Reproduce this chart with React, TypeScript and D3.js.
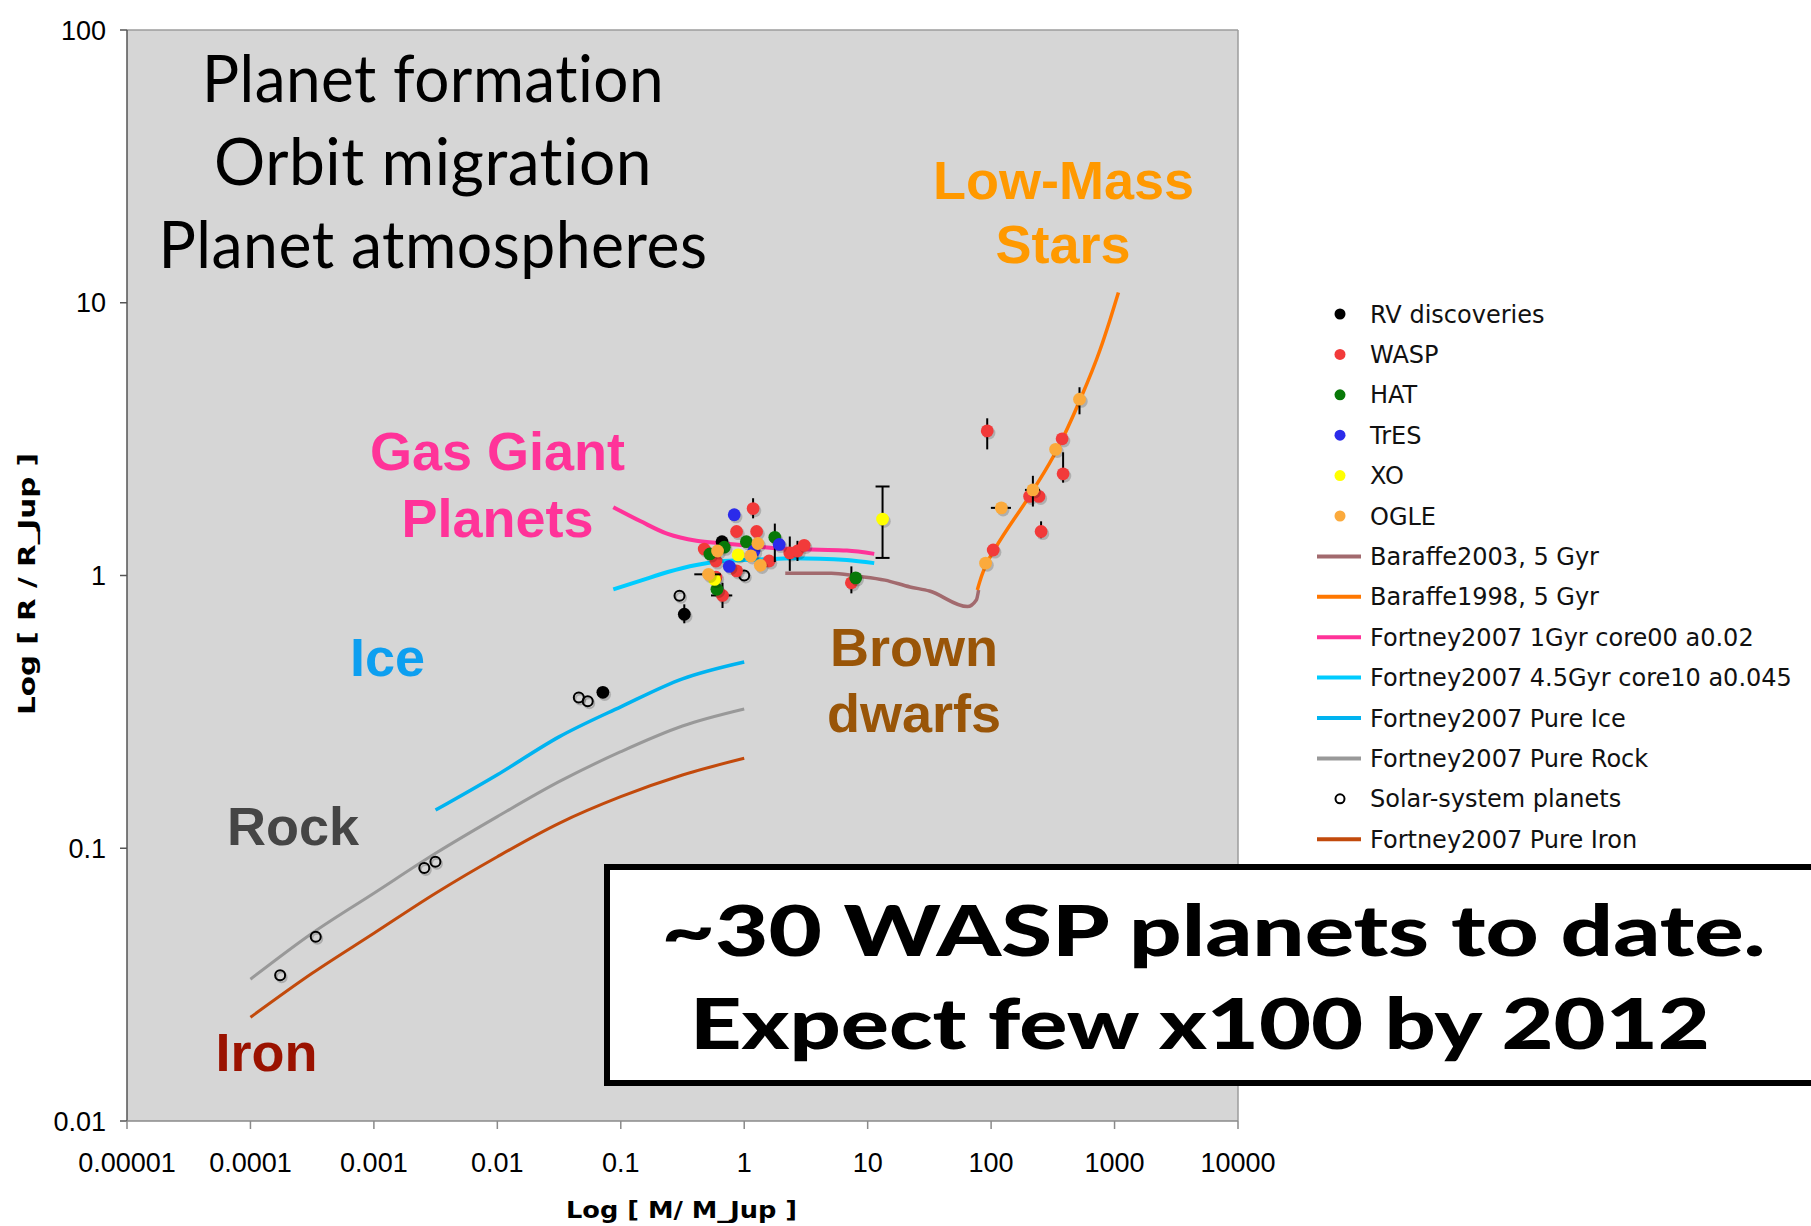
import React from "react";
import * as d3 from "d3";

type Pt = { m: number; r: number; mLo?: number; mHi?: number; rLo?: number; rHi?: number; cap?: boolean };
type XY = [number, number];

// Axis ticks (mass in Jupiter masses, radius in Jupiter radii)
const massTicks = [1e-5, 1e-4, 1e-3, 1e-2, 1e-1, 1, 10, 100, 1000, 10000];
const massTickLabels = ["0.00001", "0.0001", "0.001", "0.01", "0.1", "1", "10", "100", "1000", "10000"];
const radiusTicks = [0.01, 0.1, 1, 10, 100];
const radiusTickLabels = ["0.01", "0.1", "1", "10", "100"];

// Model tracks: [mass, radius]
const baraffe2003: XY[] = [[2.15, 1.02], [5.08, 1.02], [8.2, 0.995], [13.8, 0.962], [22, 0.908], [31.7, 0.877], [64.3, 0.769], [75.9, 0.813], [79.2, 0.885]];
const baraffe1998: XY[] = [[77.3, 0.885], [84, 1.0], [92.3, 1.11], [106, 1.24], [220, 2.06], [340, 2.88], [525, 4.4], [762, 6.71], [918, 8.65], [1075, 10.9]];
const fortney1Gyr: XY[] = [[0.087, 1.78], [0.145, 1.58], [0.24, 1.42], [0.41, 1.34], [0.68, 1.31], [1.0, 1.29], [1.46, 1.27], [2.44, 1.25], [4.07, 1.243], [6.78, 1.235], [11.3, 1.2]];
const fortney45Gyr: XY[] = [[0.087, 0.889], [0.145, 0.957], [0.24, 1.03], [0.41, 1.093], [0.68, 1.13], [1.0, 1.14], [1.46, 1.147], [2.44, 1.156], [4.07, 1.153], [6.78, 1.14], [11.3, 1.11]];
const pureIce: XY[] = [[0.00316, 0.138], [0.01, 0.186], [0.0316, 0.256], [0.1, 0.33], [0.316, 0.418], [1.0, 0.482]];
const pureRock: XY[] = [[0.0001, 0.0331], [0.000316, 0.0488], [0.001, 0.0684], [0.00316, 0.0958], [0.01, 0.1306], [0.0316, 0.1754], [0.1, 0.226], [0.316, 0.2807], [1.0, 0.324]];
const pureIron: XY[] = [[0.0001, 0.024], [0.000316, 0.0348], [0.001, 0.0488], [0.00316, 0.0684], [0.01, 0.0931], [0.0316, 0.1234], [0.1, 0.1545], [0.316, 0.1856], [1.0, 0.2138]];

// Observed planets
const rvPlanets: Pt[] = [
  { m: 0.661, r: 1.33 },
  { m: 0.327, r: 0.721, rLo: 0.668, rHi: 0.784 },
  { m: 0.0716, r: 0.373 },
];
const waspPlanets: Pt[] = [
  { m: 1.18, r: 1.76, rLo: 1.62, rHi: 1.92 },
  { m: 0.867, r: 1.45 },
  { m: 1.26, r: 1.45 },
  { m: 0.474, r: 1.25 },
  { m: 0.59, r: 1.13 },
  { m: 1.59, r: 1.13 },
  { m: 0.867, r: 1.04 },
  { m: 0.667, r: 0.845, mLo: 0.538, mHi: 0.8, rLo: 0.76, rHi: 0.94 },
  { m: 0.59, r: 0.986 },
  { m: 2.34, r: 1.21, rLo: 1.04, rHi: 1.39 },
  { m: 2.7, r: 1.23, rLo: 1.13, rHi: 1.34 },
  { m: 3.06, r: 1.29 },
  { m: 7.38, r: 0.94, rLo: 0.86, rHi: 1.08 },
  { m: 93, r: 3.39, rLo: 2.9, rHi: 3.77 },
  { m: 376, r: 3.17 },
  { m: 383, r: 2.36, rLo: 2.19, rHi: 2.83 },
  { m: 205, r: 1.95 },
  { m: 244, r: 1.95 },
  { m: 254, r: 1.45, rLo: 1.37, rHi: 1.58 },
  { m: 104, r: 1.24, rLo: 1.19, rHi: 1.3 },
];
const hatPlanets: Pt[] = [
  { m: 1.04, r: 1.33 },
  { m: 1.77, r: 1.38, rLo: 1.12, rHi: 1.55 },
  { m: 0.527, r: 1.2 },
  { m: 0.689, r: 1.27 },
  { m: 0.601, r: 0.89 },
  { m: 8.0, r: 0.98 },
];
const tresPlanets: Pt[] = [
  { m: 0.83, r: 1.67 },
  { m: 1.92, r: 1.3 },
  { m: 0.757, r: 1.08 },
  { m: 1.2, r: 1.23 },
];
const xoPlanets: Pt[] = [
  { m: 0.893, r: 1.19 },
  { m: 0.575, r: 0.967 },
  { m: 13.2, r: 1.61, rLo: 1.16, rHi: 2.12, cap: true },
];
const oglePlanets: Pt[] = [
  { m: 1.29, r: 1.31 },
  { m: 0.608, r: 1.23 },
  { m: 1.13, r: 1.18 },
  { m: 1.35, r: 1.09 },
  { m: 0.514, r: 1.01, mLo: 0.394, mHi: 0.647 },
  { m: 333, r: 2.9 },
  { m: 520, r: 4.43, rLo: 3.9, rHi: 4.9 },
  { m: 218, r: 2.06, mLo: 188, mHi: 249, rLo: 1.79, rHi: 2.32 },
  { m: 121, r: 1.77, mLo: 99.6, mHi: 145, rLo: 1.72, rHi: 1.83 },
  { m: 90.2, r: 1.11 },
];
const solarSystem: Pt[] = [
  { m: 0.000174, r: 0.0342 },
  { m: 0.000338, r: 0.0474 },
  { m: 0.00256, r: 0.0846 },
  { m: 0.00315, r: 0.0892 },
  { m: 0.0457, r: 0.357 },
  { m: 0.054, r: 0.346 },
  { m: 0.299, r: 0.843 },
  { m: 1.0, r: 1.0 },
];

const legendLabels = [
  "RV discoveries", "WASP", "HAT", "TrES", "XO", "OGLE",
  "Baraffe2003, 5 Gyr", "Baraffe1998, 5 Gyr",
  "Fortney2007 1Gyr core00 a0.02", "Fortney2007 4.5Gyr core10 a0.045",
  "Fortney2007 Pure Ice", "Fortney2007 Pure Rock",
  "Solar-system planets", "Fortney2007 Pure Iron",
];

const SANS = "'Liberation Sans', Arial, Helvetica, sans-serif";
const VERD = "'DejaVu Sans', Verdana, sans-serif";
const HUMAN = "Lato, 'Open Sans', sans-serif";

const C = {
  rv: "#000000",
  wasp: "#f23a3a",
  hat: "#087808",
  tres: "#2b2bea",
  xo: "#ffff00",
  ogle: "#fbaa3c",
  b03: "#a26a6e",
  b98: "#ff7700",
  f1: "#ff3399",
  f45: "#00ccff",
  ice: "#00b3f0",
  rock: "#999999",
  iron: "#c24a0c",
};

const L = 127, R = 1238, T = 30, B = 1121;
const noLig = { fontVariantLigatures: "none" as const, fontFeatureSettings: "'liga' 0, 'clig' 0" };

export default function App() {
  const x = d3.scaleLog().domain([1e-5, 1e4]).range([L, R]);
  const y = d3.scaleLog().domain([0.01, 100]).range([B, T]);
  const line = d3.line<XY>().x(d => x(d[0])).y(d => y(d[1])).curve(d3.curveMonotoneX);

  const curves = [
    { data: pureIron, color: C.iron, w: 3 },
    { data: pureRock, color: C.rock, w: 3 },
    { data: pureIce, color: C.ice, w: 3.5 },
    { data: fortney45Gyr, color: C.f45, w: 4 },
    { data: fortney1Gyr, color: C.f1, w: 4 },
    { data: baraffe2003, color: C.b03, w: 3.5 },
    { data: baraffe1998, color: C.b98, w: 3.5 },
  ];

  const series = [
    { pts: rvPlanets, color: C.rv },
    { pts: waspPlanets, color: C.wasp },
    { pts: hatPlanets, color: C.hat },
    { pts: tresPlanets, color: C.tres },
    { pts: xoPlanets, color: C.xo },
    { pts: oglePlanets, color: C.ogle },
  ];

  const errBars = (p: Pt, k: string) => {
    const cx = x(p.m), cy = y(p.r);
    const out: React.ReactNode[] = [];
    if (p.rLo !== undefined && p.rHi !== undefined) {
      out.push(<line key={k + "v"} x1={cx} x2={cx} y1={y(p.rLo)} y2={y(p.rHi)} stroke="#000" strokeWidth={2} />);
      if (p.cap) {
        out.push(<line key={k + "c1"} x1={cx - 7} x2={cx + 7} y1={y(p.rLo)} y2={y(p.rLo)} stroke="#000" strokeWidth={2} />);
        out.push(<line key={k + "c2"} x1={cx - 7} x2={cx + 7} y1={y(p.rHi)} y2={y(p.rHi)} stroke="#000" strokeWidth={2} />);
      }
    }
    if (p.mLo !== undefined && p.mHi !== undefined) {
      out.push(<line key={k + "h"} x1={x(p.mLo)} x2={x(p.mHi)} y1={cy} y2={cy} stroke="#000" strokeWidth={2} />);
    }
    return out;
  };

  const legendY0 = 314, legendDy = 40.4;
  const legendMarks = [
    { kind: "dot", color: C.rv }, { kind: "dot", color: C.wasp }, { kind: "dot", color: C.hat },
    { kind: "dot", color: C.tres }, { kind: "dot", color: C.xo }, { kind: "dot", color: C.ogle },
    { kind: "line", color: C.b03 }, { kind: "line", color: C.b98 }, { kind: "line", color: C.f1 },
    { kind: "line", color: C.f45 }, { kind: "line", color: C.ice }, { kind: "line", color: C.rock },
    { kind: "open", color: "#000" }, { kind: "line", color: C.iron },
  ];

  return (
    <svg width={1811} height={1226} style={{ position: "absolute", left: 0, top: 0, display: "block", background: "#fff" }}>
      <rect x={0} y={0} width={1811} height={1226} fill="#fff" />
      {/* plot area */}
      <rect x={L} y={T} width={R - L} height={B - T} fill="#d6d6d6" />
      <line x1={L} x2={R} y1={T} y2={T} stroke="#9c9c9c" strokeWidth={1.5} />
      <line x1={R} x2={R} y1={T} y2={B} stroke="#9c9c9c" strokeWidth={1.5} />

      {/* headline text */}
      <g fontFamily={HUMAN} fontSize={66} fill="#000" textAnchor="middle" letterSpacing={0.5} style={noLig}>
        <text x={433} y={101.7} textLength={462} lengthAdjust="spacingAndGlyphs">Planet formation</text>
        <text x={433} y={185} textLength={438} lengthAdjust="spacingAndGlyphs">Orbit migration</text>
        <text x={433} y={268.3} textLength={549} lengthAdjust="spacingAndGlyphs">Planet atmospheres</text>
      </g>

      {/* region labels */}
      <g fontFamily={SANS} fontWeight="bold" fontSize={54} textAnchor="middle">
        <text x={497.5} y={470} fill="#ff3399">Gas Giant</text>
        <text x={497.5} y={536.7} fill="#ff3399">Planets</text>
        <text x={1063.5} y={199.3} fill="#ff9900">Low-Mass</text>
        <text x={1063} y={263.3} fill="#ff9900">Stars</text>
        <text x={387.5} y={676} fill="#0d9ff0">Ice</text>
        <text x={293} y={845} fill="#454545">Rock</text>
        <text x={266.5} y={1070.7} fill="#9a1200">Iron</text>
        <text x={914} y={666} fill="#995508">Brown</text>
        <text x={914} y={732.3} fill="#995508">dwarfs</text>
      </g>

      {/* model curves */}
      {curves.map((c, i) => (
        <path key={"c" + i} d={line(c.data) || ""} fill="none" stroke={c.color} strokeWidth={c.w} strokeLinejoin="round" />
      ))}

      {/* solar system planets */}
      {solarSystem.map((p, i) => (
        <g key={"s" + i}>
          <circle cx={x(p.m) + 1.5} cy={y(p.r) + 2} r={5} fill="none" stroke="#000" strokeOpacity={0.2} strokeWidth={2} />
          <circle cx={x(p.m)} cy={y(p.r)} r={5} fill="none" stroke="#000" strokeWidth={2} />
        </g>
      ))}

      {/* transiting / RV planets */}
      {series.map((s, si) => (
        <g key={"g" + si}>
          {s.pts.map((p, i) => errBars(p, `e${si}-${i}`))}
          {s.pts.map((p, i) => (
            <g key={`p${si}-${i}`}>
              <circle cx={x(p.m) + 1.8} cy={y(p.r) + 2.2} r={6.4} fill="#000" fillOpacity={0.18} />
              <circle cx={x(p.m)} cy={y(p.r)} r={6.4} fill={s.color} />
            </g>
          ))}
        </g>
      ))}

      {/* axes */}
      <line x1={L} x2={L} y1={T} y2={B} stroke="#555" strokeWidth={1.5} />
      <line x1={L} x2={R} y1={B} y2={B} stroke="#8a8a8a" strokeWidth={1.5} />
      {radiusTicks.map((v, i) => (
        <g key={"yt" + i}>
          <line x1={L - 7} x2={L} y1={y(v)} y2={y(v)} stroke="#555" strokeWidth={1.5} />
          <text x={106} y={y(v) + 9.5} textAnchor="end" fontFamily={SANS} fontSize={27} fill="#000">{radiusTickLabels[i]}</text>
        </g>
      ))}
      {massTicks.map((v, i) => (
        <g key={"xt" + i}>
          <line x1={x(v)} x2={x(v)} y1={B} y2={B + 8} stroke="#8a8a8a" strokeWidth={1.5} />
          <text x={x(v)} y={1171.5} textAnchor="middle" fontFamily={SANS} fontSize={27} fill="#000">{massTickLabels[i]}</text>
        </g>
      ))}
      <text x={681.5} y={1218} textAnchor="middle" fontFamily={VERD} fontWeight="bold" fontSize={23} textLength={231} lengthAdjust="spacingAndGlyphs">Log [ M/ M_Jup ]</text>
      <text transform="translate(35,584) rotate(-90)" textAnchor="middle" fontFamily={VERD} fontWeight="bold" fontSize={23} textLength={262} lengthAdjust="spacingAndGlyphs">Log [ R / R_Jup ]</text>

      {/* legend */}
      {legendLabels.map((lab, i) => {
        const cy = legendY0 + i * legendDy;
        const mk = legendMarks[i];
        return (
          <g key={"lg" + i}>
            {mk.kind === "dot" && <circle cx={1340} cy={cy} r={5.5} fill={mk.color} />}
            {mk.kind === "open" && <circle cx={1340} cy={cy} r={4.5} fill="none" stroke="#000" strokeWidth={2} />}
            {mk.kind === "line" && <line x1={1317} x2={1361} y1={cy} y2={cy} stroke={mk.color} strokeWidth={4} />}
            <text x={1370} y={cy + 8.5} fontFamily={VERD} fontSize={24} fill="#111">{lab}</text>
          </g>
        );
      })}

      {/* callout box */}
      <rect x={607} y={867} width={1260} height={216} fill="#fff" stroke="#000" strokeWidth={6} />
      <g fontFamily={HUMAN} fontWeight={900} fontSize={70} fill="#000" textAnchor="middle" style={noLig}>
        <text x={1213.5} y={956} textLength={1104} lengthAdjust="spacingAndGlyphs">~30 WASP planets to date.</text>
        <text x={1200} y={1049} textLength={1020} lengthAdjust="spacingAndGlyphs">Expect few x100 by 2012</text>
      </g>
    </svg>
  );
}
